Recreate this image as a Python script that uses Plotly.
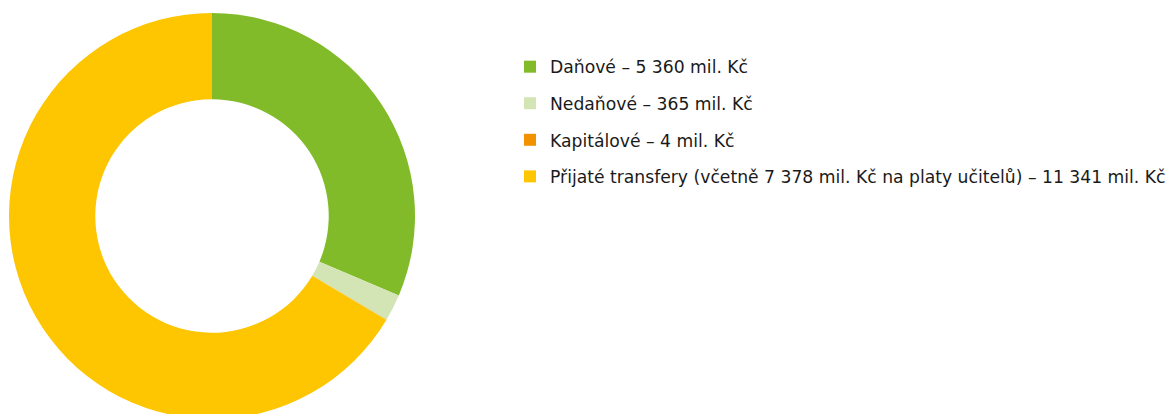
import plotly.graph_objects as go

labels = ["Daňové", "Nedaňové", "Kapitálové",
          "Přijaté transfery (včetně 7 378 mil. Kč na platy učitelů)"]
values = [5360, 365, 4, 11341]
colors = ["#81BB29", "#D3E4B5", "#F39200", "#FDC600"]

legend_text = [f"{l} – {v:,} mil. Kč".replace(",", " ") for l, v in zip(labels, values)]

fig = go.Figure()
fig.add_trace(go.Pie(
    labels=labels, values=values, hole=0.575, sort=False,
    direction="clockwise", rotation=0,
    marker=dict(colors=colors, line=dict(width=0)),
    textinfo="none", showlegend=False, hoverinfo="label+value",
    domain=dict(x=[1 / 1173, 407 / 1173], y=[3 / 409, 1]),
))
for i, (t, c) in enumerate(zip(legend_text, colors)):
    fig.add_trace(go.Scatter(
        x=[None], y=[None], mode="markers", name=t,
        marker=dict(symbol="square", size=11, color=c),
        legendgroup=f"g{i}", showlegend=True,
    ))

fig.update_layout(
    width=1173, height=414,
    margin=dict(l=0, r=0, t=5, b=0),
    paper_bgcolor="white", plot_bgcolor="white",
    xaxis=dict(visible=False), yaxis=dict(visible=False),
    font=dict(family="DejaVu Sans, sans-serif", size=17.2, color="#1a1a1a"),
    legend=dict(x=502 / 1173, y=0.912, xanchor="left", yanchor="top",
                tracegroupgap=11.2, traceorder="grouped",
                font=dict(size=17.2), itemsizing="constant"),
)
fig.write_html("out.html")
